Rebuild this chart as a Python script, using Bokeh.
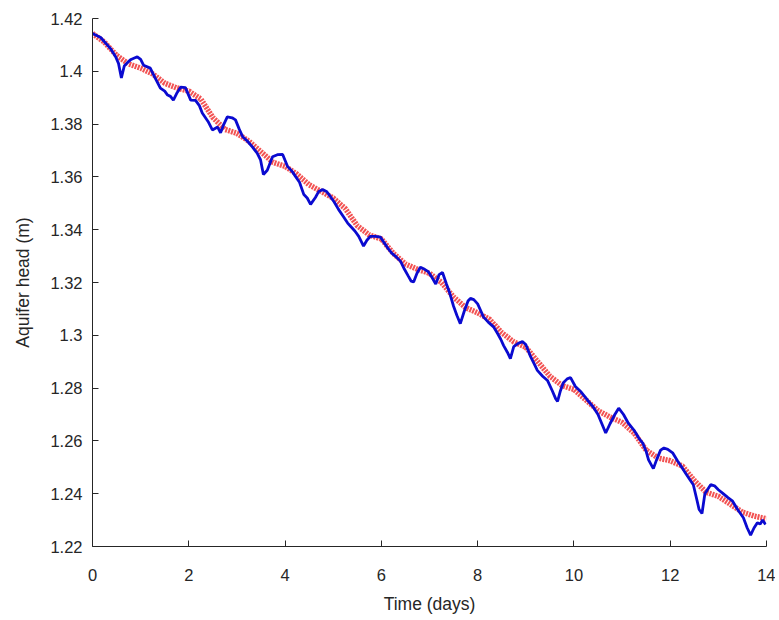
from bokeh.plotting import figure
from bokeh.models import FixedTicker, Range1d
from bokeh.embed import file_html
from bokeh.resources import INLINE

# Modelled (smooth) head
red_t = [0, 0.25, 0.5, 0.75, 1.0, 1.25, 1.5, 1.75, 2.0, 2.25, 2.5, 2.75, 3.0, 3.25, 3.5, 3.75,
         4.0, 4.25, 4.5, 4.75, 5.0, 5.25, 5.5, 5.75, 6.0, 6.25, 6.5, 6.75, 7.0, 7.25, 7.5, 7.75,
         8.0, 8.25, 8.5, 8.75, 9.0, 9.25, 9.5, 9.75, 10.0, 10.25, 10.5, 10.75, 11.0, 11.25, 11.5,
         11.75, 12.0, 12.25, 12.5, 12.75, 13.0, 13.25, 13.5, 13.75, 14.0]
red_h = [1.4143, 1.4110, 1.4060, 1.4028, 1.4012, 1.3990, 1.3955, 1.3937, 1.3925, 1.3895, 1.3825,
         1.3780, 1.3765, 1.3735, 1.3695, 1.3655, 1.3640, 1.3610, 1.3570, 1.3545, 1.3520, 1.3480,
         1.3415, 1.3380, 1.3365, 1.3310, 1.3270, 1.3250, 1.3235, 1.3200, 1.3145, 1.3105, 1.3085,
         1.3060, 1.3010, 1.2975, 1.2955, 1.2900, 1.2845, 1.2810, 1.2795, 1.2755, 1.2715, 1.2690,
         1.2670, 1.2630, 1.2565, 1.2535, 1.2525, 1.2505, 1.2450, 1.2405, 1.2390, 1.2360, 1.2330,
         1.2315, 1.2305]

# Observed head
blue_t = [0.0, 0.17, 0.37, 0.48, 0.54, 0.60, 0.66, 0.73, 0.80, 0.93, 1.00, 1.06, 1.20, 1.30, 1.41,
          1.50, 1.56, 1.62, 1.68, 1.76, 1.83, 1.93, 2.04, 2.14, 2.22, 2.28, 2.40, 2.49, 2.60, 2.66,
          2.73, 2.80, 2.90, 2.97, 3.05, 3.12, 3.22, 3.32, 3.42, 3.49, 3.55, 3.63, 3.74, 3.84, 3.95,
          4.05, 4.15, 4.22, 4.30, 4.39, 4.46, 4.53, 4.63, 4.70, 4.78, 4.86, 4.94, 5.02, 5.11, 5.21,
          5.30, 5.36, 5.45, 5.53, 5.63, 5.70, 5.77, 5.88, 5.98, 6.06, 6.15, 6.22, 6.29, 6.40, 6.48,
          6.56, 6.62, 6.67, 6.74, 6.81, 6.90, 6.98, 7.05, 7.13, 7.20, 7.27, 7.35, 7.42, 7.50, 7.57,
          7.64, 7.72, 7.80, 7.85, 7.92, 8.00, 8.06, 8.12, 8.22, 8.33, 8.42, 8.48, 8.54, 8.62, 8.68,
          8.75, 8.85, 8.93, 9.00, 9.10, 9.18, 9.24, 9.35, 9.45, 9.55, 9.62, 9.66, 9.72, 9.78, 9.86,
          9.93, 10.03, 10.15, 10.28, 10.39, 10.50, 10.58, 10.66, 10.75, 10.85, 10.93, 11.03, 11.13,
          11.25, 11.35, 11.43, 11.50, 11.55, 11.65, 11.72, 11.80, 11.87, 11.95, 12.05, 12.15, 12.21,
          12.33, 12.42, 12.48, 12.55, 12.60, 12.66, 12.72, 12.84, 12.92, 13.00, 13.10, 13.20, 13.29,
          13.40, 13.52, 13.60, 13.67, 13.74, 13.81, 13.87, 13.92, 13.98]
blue_h = [1.4143, 1.4128, 1.4087, 1.4055, 1.4030, 1.3975, 1.4020, 1.4034, 1.4045, 1.4055, 1.4045,
          1.4023, 1.4012, 1.3975, 1.3936, 1.3925, 1.3910, 1.3905, 1.3891, 1.3920, 1.3940, 1.3938,
          1.3891, 1.3890, 1.3870, 1.3842, 1.3810, 1.3778, 1.3789, 1.3767, 1.3800, 1.3827, 1.3824,
          1.3816, 1.3780, 1.3752, 1.3735, 1.3714, 1.3690, 1.3665, 1.3609, 1.3625, 1.3676, 1.3684,
          1.3685, 1.3640, 1.3620, 1.3601, 1.3580, 1.3533, 1.3520, 1.3496, 1.3522, 1.3545, 1.3552,
          1.3545, 1.3526, 1.3505, 1.3477, 1.3450, 1.3425, 1.3413, 1.3395, 1.3375, 1.3338, 1.3360,
          1.3375, 1.3375, 1.3372, 1.3350, 1.3326, 1.3310, 1.3300, 1.3280, 1.3250, 1.3224, 1.3205,
          1.3202, 1.3235, 1.3258, 1.3250, 1.3240, 1.3220, 1.3194, 1.3230, 1.3238, 1.3195, 1.3160,
          1.3110, 1.3075, 1.3044, 1.3090, 1.3130, 1.3140, 1.3135, 1.3119, 1.3095, 1.3070, 1.3050,
          1.3032, 1.3005, 1.2985, 1.2961, 1.2935, 1.2912, 1.2957, 1.2970, 1.2976, 1.2965, 1.2919,
          1.2890, 1.2867, 1.2845, 1.2829, 1.2790, 1.2760, 1.2750, 1.2790, 1.2820, 1.2835, 1.2840,
          1.2806, 1.2785, 1.2755, 1.2731, 1.2700, 1.2665, 1.2630, 1.2665, 1.2700, 1.2724, 1.2700,
          1.2667, 1.2640, 1.2610, 1.2592, 1.2560, 1.2528, 1.2495, 1.2530, 1.2565, 1.2573, 1.2568,
          1.2555, 1.2525, 1.2509, 1.2475, 1.2450, 1.2434, 1.2380, 1.2340, 1.2325, 1.2400, 1.2434,
          1.2430, 1.2415, 1.2400, 1.2385, 1.2373, 1.2340, 1.2309, 1.2270, 1.2243, 1.2270, 1.2290,
          1.2285, 1.2300, 1.2283]

x_ticks = [0, 2, 4, 6, 8, 10, 12, 14]
y_ticks = [1.22, 1.24, 1.26, 1.28, 1.30, 1.32, 1.34, 1.36, 1.38, 1.40, 1.42]
y_tick_labels = ["1.22", "1.24", "1.26", "1.28", "1.3", "1.32", "1.34", "1.36", "1.38", "1.4", "1.42"]

FONT = "Liberation Sans"
TXT = "#262626"

p = figure(width=775, height=616, output_backend="svg", toolbar_location=None,
           x_range=Range1d(0, 14), y_range=Range1d(1.22, 1.42),
           min_border_left=92, min_border_right=9, min_border_top=18, min_border_bottom=66)
p.outline_line_color = None
p.grid.visible = False
p.background_fill_color = "white"
p.border_fill_color = "white"

p.line(red_t, red_h, line_color="#f03535", line_width=5.5, line_dash="2 1", line_alpha=0.85)
p.line(blue_t, blue_h, line_color="#0a0ad0", line_width=2.8)

for ax in (p.xaxis[0], p.yaxis[0]):
    ax.axis_line_color = TXT
    ax.axis_line_width = 1
    ax.major_tick_line_color = TXT
    ax.major_tick_in = 6
    ax.major_tick_out = 0
    ax.minor_tick_line_color = None
    ax.major_label_text_font = FONT
    ax.major_label_text_font_size = "16.5px"
    ax.major_label_text_color = TXT
    ax.axis_label_text_font = FONT
    ax.axis_label_text_font_size = "17.5px"
    ax.axis_label_text_font_style = "normal"
    ax.axis_label_text_color = TXT

p.xaxis.ticker = FixedTicker(ticks=x_ticks)
p.yaxis.ticker = FixedTicker(ticks=y_ticks)
p.yaxis.major_label_overrides = {t: l for t, l in zip(y_ticks, y_tick_labels)}
p.xaxis.major_label_standoff = 22
p.yaxis.major_label_standoff = 10
p.xaxis.axis_label = "Time (days)"
p.yaxis.axis_label = "Aquifer head (m)"
p.xaxis.axis_label_standoff = 10
p.yaxis.axis_label_standoff = 14

open("out.html", "w").write(file_html(p, INLINE))
